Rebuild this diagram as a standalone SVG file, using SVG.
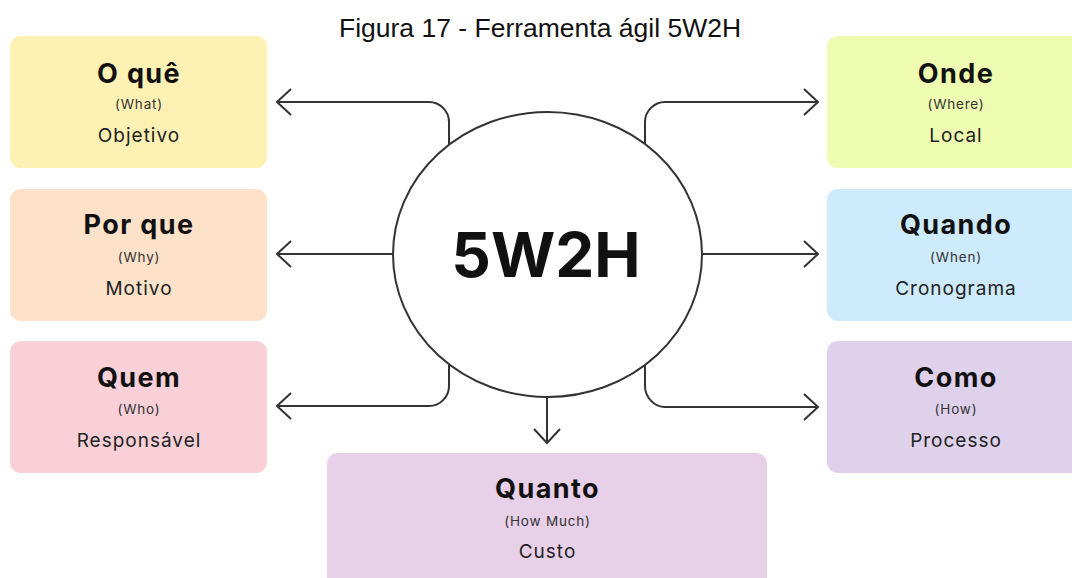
<svg xmlns="http://www.w3.org/2000/svg" width="1072" height="578" viewBox="0 0 1072 578">
  <style>
    .title { font-family: "Liberation Sans", Arial, sans-serif; font-size: 26.5px; fill: #111; }
    .box { stroke: none; }
    .head { font-family: Inter, "Noto Sans", sans-serif; font-weight: 700; font-size: 27px; letter-spacing: 1.4px; fill: #111; text-anchor: middle; }
    .sub { font-family: Inter, "Noto Sans", sans-serif; font-size: 13.5px; letter-spacing: 0.8px; fill: #333; text-anchor: middle; }
    .desc { font-family: Inter, "Noto Sans", sans-serif; font-size: 19px; letter-spacing: 1px; fill: #222; text-anchor: middle; }
    .big { font-family: Inter, "Noto Sans", sans-serif; font-weight: 700; font-size: 62px; fill: #111; text-anchor: middle; }
    .link { fill: none; stroke: #333; stroke-width: 2; marker-end: url(#chev); }
  </style>
  <defs>
    <marker id="chev" viewBox="-18 -16 22 32" refX="0" refY="0" markerWidth="22" markerHeight="32" markerUnits="userSpaceOnUse" orient="auto" overflow="visible">
      <path d="M-14,-13 L0,0 L-14,13" fill="none" stroke="#333" stroke-width="2" stroke-linejoin="miter"/>
    </marker>
  </defs>

  <rect width="1072" height="578" fill="#ffffff"/>

  <text class="title" x="540" y="37" text-anchor="middle">Figura 17 - Ferramenta ágil 5W2H</text>

  <!-- connectors from the centre circle -->
  <g id="connectors">
    <path class="link" d="M449,145 V122 C449,111 440,102 429,102 H277"/>
    <path class="link" d="M393,254 H277"/>
    <path class="link" d="M449,364 V386 C449,397 440,406 429,406 H277"/>
    <path class="link" d="M645,145 V122 C645,111 654,102 665,102 H818"/>
    <path class="link" d="M702,254 H818"/>
    <path class="link" d="M645,364 V386 C645,397 654,407 665,407 H818"/>
    <path class="link" d="M547,397 V443"/>
  </g>

  <g id="center">
    <ellipse cx="547.5" cy="254.5" rx="154.5" ry="142.5" fill="#ffffff" stroke="#333" stroke-width="2"/>
    <text class="big" x="546" y="277">5W2H</text>
  </g>

  <g id="what">
    <rect class="box" x="10" y="36" width="257" height="132" rx="11" fill="#fef1b3"/>
    <text class="head" x="139" y="83">O quê</text>
    <text class="sub" x="139" y="109">(What)</text>
    <text class="desc" x="139" y="142">Objetivo</text>
  </g>

  <g id="why">
    <rect class="box" x="10" y="189" width="257" height="132" rx="11" fill="#fde2c9"/>
    <text class="head" x="139" y="234">Por que</text>
    <text class="sub" x="139" y="262">(Why)</text>
    <text class="desc" x="139" y="295">Motivo</text>
  </g>

  <g id="who">
    <rect class="box" x="10" y="341" width="257" height="132" rx="11" fill="#f9d0d7"/>
    <text class="head" x="139" y="387">Quem</text>
    <text class="sub" x="139" y="414">(Who)</text>
    <text class="desc" x="139" y="447">Responsável</text>
  </g>

  <g id="where">
    <rect class="box" x="827" y="36" width="257" height="132" rx="11" fill="#edfcb0"/>
    <text class="head" x="956" y="83">Onde</text>
    <text class="sub" x="956" y="109">(Where)</text>
    <text class="desc" x="956" y="142">Local</text>
  </g>

  <g id="when">
    <rect class="box" x="827" y="189" width="257" height="132" rx="11" fill="#cdebfc"/>
    <text class="head" x="956" y="234">Quando</text>
    <text class="sub" x="956" y="262">(When)</text>
    <text class="desc" x="956" y="295">Cronograma</text>
  </g>

  <g id="how">
    <rect class="box" x="827" y="341" width="257" height="132" rx="11" fill="#dfd0ec"/>
    <text class="head" x="956" y="387">Como</text>
    <text class="sub" x="956" y="414">(How)</text>
    <text class="desc" x="956" y="447">Processo</text>
  </g>

  <g id="howmuch">
    <rect class="box" x="327" y="453" width="440" height="140" rx="11" fill="#e8d0e8"/>
    <text class="head" x="547.5" y="498">Quanto</text>
    <text class="sub" x="547.5" y="526">(How Much)</text>
    <text class="desc" x="547.5" y="558">Custo</text>
  </g>
</svg>
